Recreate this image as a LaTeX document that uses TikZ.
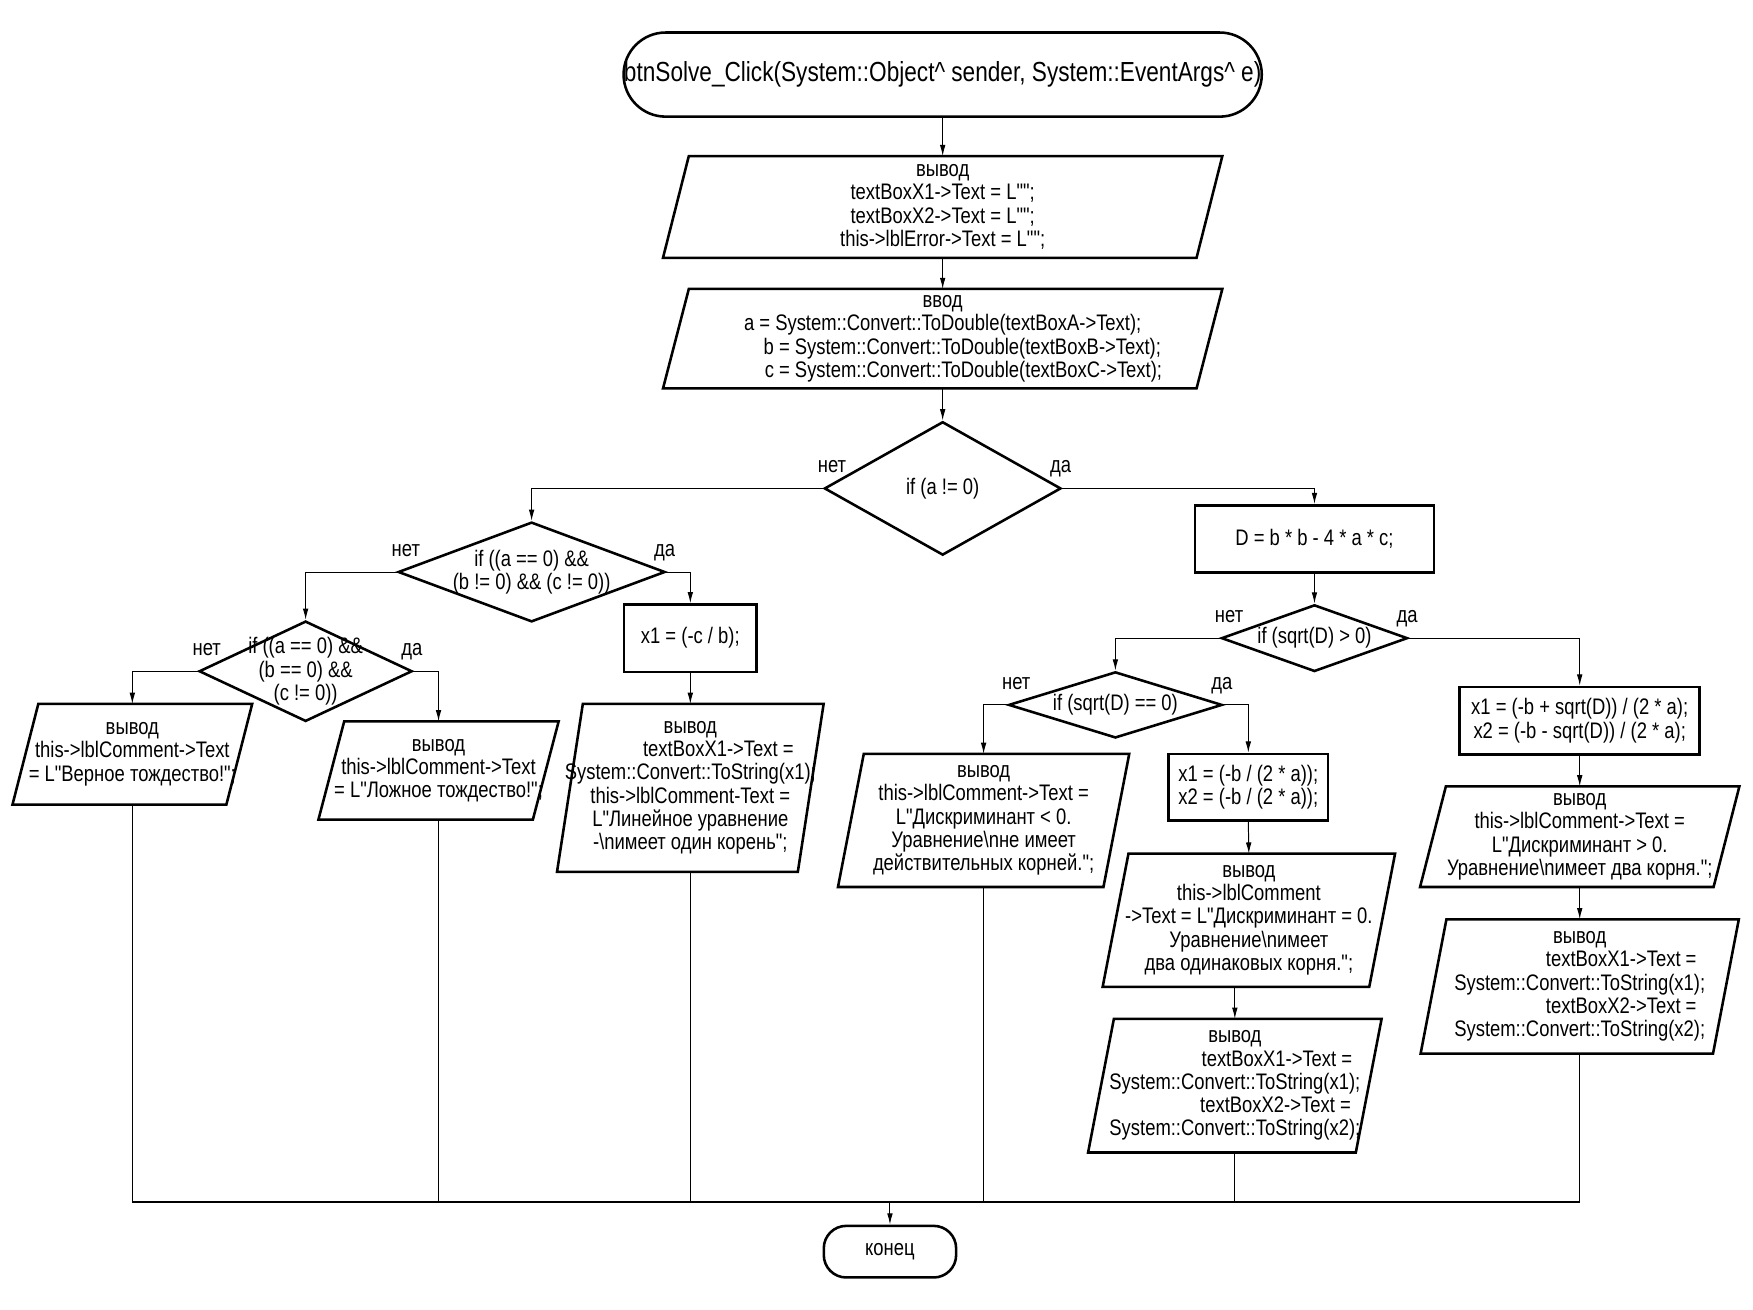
\documentclass[tikz,border=0pt]{standalone}
\usepackage{fontspec}
\newfontfamily\narrowfont{Liberation Sans}[FakeStretch=0.82]
\usetikzlibrary{shapes.geometric,arrows.meta}
\newcommand\blockfont{\narrowfont\fontsize{11.4pt}{11.8pt}\selectfont}

\tikzset{
  txt/.style={font=\blockfont, align=center, inner sep=0pt},
  term/.style={txt, draw, line width=1.3pt, rectangle, rounded corners=#1},
  proc/.style={txt, draw, line width=1.3pt, rectangle},
  dec/.style={draw, line width=1.3pt, diamond, inner sep=0pt},
  io/.style={txt, execute at begin node={\vphantom{I}}, append after command={\pgfextra{\draw[line width=1.3pt]
    ([xshift=0.23cm]\tikzlastnode.north west) -- ([xshift=0.23cm]\tikzlastnode.north east) --
    ([xshift=-0.23cm]\tikzlastnode.south east) -- ([xshift=-0.23cm]\tikzlastnode.south west) -- cycle;}}},
  lbl/.style={font=\blockfont, inner sep=0pt, anchor=base},
  line/.style={line width=0.5pt},
  arr/.style={line, -{Latex[length=0.2cm,width=0.1cm]}},
}

\begin{document}
\begin{tikzpicture}
  \useasboundingbox (0,0) rectangle (31.26,-23.36);

  % main column
  \node[term=0.75cm, minimum width=11.38cm, minimum height=1.5cm, font=\narrowfont\fontsize{14pt}{15pt}\selectfont] (start) at (16.81,-1.33)
    {btnSolve\_Click(System::Object\textasciicircum{} sender, System::EventArgs\textasciicircum{} e)};
  \node[io, minimum width=9.5cm, minimum height=1.8cm] (out1) at (16.81,-3.69)
    {вывод\\textBoxX1->Text = L"";\\textBoxX2->Text = L"";\\this->lblError->Text = L"";};
  \node[io, minimum width=9.5cm, minimum height=1.76cm] (in1) at (16.81,-6.04)
    {ввод\\a = System::Convert::ToDouble(textBoxA->Text);\\\hspace*{0.7cm}b = System::Convert::ToDouble(textBoxB->Text);\\\hspace*{0.74cm}c = System::Convert::ToDouble(textBoxC->Text);};
  \node[dec, minimum width=4.22cm, minimum height=2.38cm,
    label={[txt]center:{if (a != 0)}}] (dec1) at (16.81,-8.71) {};

  % a == 0
  \node[dec, minimum width=4.76cm, minimum height=1.78cm,
    label={[txt]center:{if ((a == 0) \&\&\\(b != 0) \&\& (c != 0))}}] (dec2) at (9.48,-10.2) {};
  \node[proc, minimum width=2.36cm, minimum height=1.2cm] (procX1) at (12.31,-11.38) {x1 = (-c / b);};
  \node[io, minimum width=4.28cm, minimum height=2.98cm] (outLin) at (12.31,-14.05)
    {вывод\\\hspace*{1.0cm}textBoxX1->Text =\\\makebox[4.28cm]{System::Convert::ToString(x1);}\\this->lblComment-Text =\\L"Линейное уравнение\\-\textbackslash nимеет один корень";};
  \node[dec, minimum width=3.8cm, minimum height=1.79cm,
    label={[txt]center:{if ((a == 0) \&\&\\(b == 0) \&\&\\(c != 0))}}] (dec3) at (5.45,-11.97) {};
  \node[io, minimum width=3.8cm, minimum height=1.78cm] (outTrue) at (2.36,-13.45)
    {вывод\\this->lblComment->Text\\= L"Верное тождество!";};
  \node[io, minimum width=3.81cm, minimum height=1.74cm] (outFalse) at (7.82,-13.74)
    {вывод\\this->lblComment->Text\\= L"Ложное тождество!";};

  % a != 0
  \node[proc, minimum width=4.26cm, minimum height=1.2cm] (procD) at (23.44,-9.61) {D = b * b - 4 * a * c;};
  \node[dec, minimum width=3.32cm, minimum height=1.19cm,
    label={[txt]center:{if (sqrt(D) > 0)}}] (decD) at (23.44,-11.38) {};
  \node[dec, minimum width=3.81cm, minimum height=1.18cm,
    label={[txt]center:{if (sqrt(D) == 0)}}] (decE) at (19.89,-12.57) {};
  \node[io, minimum width=4.72cm, minimum height=2.36cm] (outNeg) at (17.54,-14.63)
    {вывод\\this->lblComment->Text =\\L"Дискриминант < 0.\\Уравнение\textbackslash nне имеет\\действительных корней.";};
  \node[proc, minimum width=2.84cm, minimum height=1.19cm] (procX12) at (22.26,-14.04)
    {x1 = (-b / (2 * a));\\x2 = (-b / (2 * a));};
  \node[io, minimum width=4.74cm, minimum height=2.36cm] (outEq) at (22.27,-16.41)
    {вывод\\this->lblComment\\->Text = L"Дискриминант = 0.\\Уравнение\textbackslash nимеет\\два одинаковых корня.";};
  \node[io, minimum width=4.76cm, minimum height=2.37cm] (outX12L) at (22.02,-19.36)
    {вывод\\\hspace*{1.5cm}textBoxX1->Text =\\System::Convert::ToString(x1);\\\hspace*{1.45cm}textBoxX2->Text =\\System::Convert::ToString(x2);};
  \node[proc, minimum width=4.28cm, minimum height=1.2cm] (procX1X2) at (28.17,-12.85)
    {x1 = (-b + sqrt(D)) / (2 * a);\\x2 = (-b - sqrt(D)) / (2 * a);};
  \node[io, minimum width=5.22cm, minimum height=1.78cm] (outPos) at (28.17,-14.92)
    {вывод\\this->lblComment->Text =\\L"Дискриминант > 0.\\Уравнение\textbackslash nимеет два корня.";};
  \node[io, minimum width=5.2cm, minimum height=2.38cm] (outX12R) at (28.17,-17.59)
    {вывод\\\hspace*{1.48cm}textBoxX1->Text =\\System::Convert::ToString(x1);\\\hspace*{1.48cm}textBoxX2->Text =\\System::Convert::ToString(x2);};

  \coordinate (bus) at (0,-21.43);
  \node[term=0.4cm, minimum width=2.36cm, minimum height=0.92cm] (stop) at (15.87,-22.32) {конец};

  % branch labels
  \node[lbl] (dec1no) at ([shift={(0.16,0.28)}]dec1.west) {нет};
  \node[lbl] (dec1yes) at ([shift={(-0.03,0.28)}]dec1.east) {да};
  \node[lbl] (dec2no) at ([shift={(0.16,0.28)}]dec2.west) {нет};
  \node[lbl] (dec2yes) at ([shift={(-0.03,0.28)}]dec2.east) {да};
  \node[lbl] (dec3no) at ([shift={(0.16,0.28)}]dec3.west) {нет};
  \node[lbl] (dec3yes) at ([shift={(-0.03,0.28)}]dec3.east) {да};
  \node[lbl] (decDno) at ([shift={(0.16,0.28)}]decD.west) {нет};
  \node[lbl] (decDyes) at ([shift={(-0.03,0.28)}]decD.east) {да};
  \node[lbl] (decEno) at ([shift={(0.16,0.28)}]decE.west) {нет};
  \node[lbl] (decEyes) at ([shift={(-0.03,0.28)}]decE.east) {да};

  % connectors
  \draw[arr] (start.south) -- (out1.north);
  \draw[arr] (out1.south) -- (in1.north);
  \draw[arr] (in1.south) -- (dec1.north);
  \draw[arr] (dec1.west) -| (dec2.north);
  \draw[arr] (dec1.east) -| (procD.north);
  \draw[arr] (dec2.west) -| (dec3.north);
  \draw[arr] (dec2.east) -| (procX1.north);
  \draw[arr] (procX1.south) -- (outLin.north);
  \draw[arr] (dec3.west) -| (outTrue.north);
  \draw[arr] (dec3.east) -| (outFalse.north);
  \draw[arr] (procD.south) -- (decD.north);
  \draw[arr] (decD.west) -| (decE.north);
  \draw[arr] (decD.east) -| (procX1X2.north);
  \draw[arr] (decE.west) -| (outNeg.north);
  \draw[arr] (decE.east) -| (procX12.north);
  \draw[arr] (procX12.south) -- (outEq.north);
  \draw[arr] (outEq.south -| outX12L.north) -- (outX12L.north);
  \draw[arr] (procX1X2.south) -- (outPos.north);
  \draw[arr] (outPos.south) -- (outX12R.north);

  % to the end
  \draw[line] (outTrue.south) -- (outTrue.south |- bus);
  \draw[line] (outFalse.south) -- (outFalse.south |- bus);
  \draw[line] (outLin.south) -- (outLin.south |- bus);
  \draw[line] (outNeg.south) -- (outNeg.south |- bus);
  \draw[line] (outX12L.south) -- (outX12L.south |- bus);
  \draw[line] (outX12R.south) -- (outX12R.south |- bus);
  \draw[line, line width=0.8pt] (outTrue.south |- bus) -- (outX12R.south |- bus);
  \draw[arr] (stop.north |- bus) -- (stop.north);
\end{tikzpicture}
\end{document}
